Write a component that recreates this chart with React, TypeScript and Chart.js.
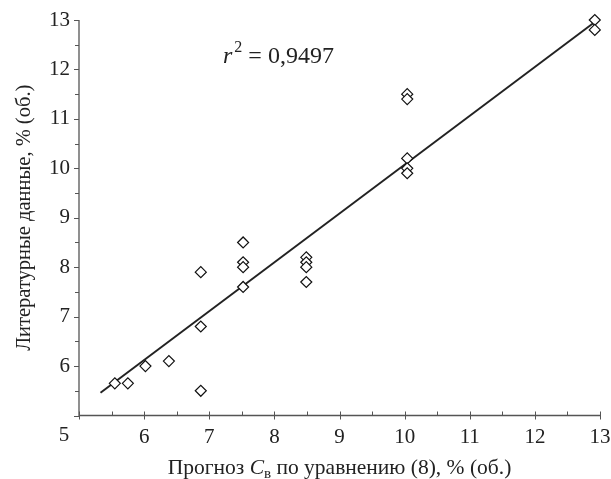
import React, { useEffect, useRef } from "react";
import { Chart, registerables } from "chart.js";

Chart.register(...registerables);

// Predicted (x) vs literature (y) values, % (об.)
const predicted = [5.55, 5.75, 6.02, 6.38, 6.87, 6.87, 6.87, 7.52, 7.52, 7.52, 7.52, 8.49, 8.49, 8.49, 8.49, 10.04, 10.04, 10.04, 10.04, 10.04, 12.92, 12.92];
const literature = [5.65, 5.65, 6.0, 6.1, 7.9, 6.8, 5.5, 8.5, 8.1, 8.0, 7.6, 8.2, 8.1, 8.0, 7.7, 11.5, 11.4, 10.2, 10.0, 9.9, 13.0, 12.8];
// Regression line end points
const fitX = [5.33, 12.9];
const fitY = [5.46, 12.94];

const xTitleParts = ["Прогноз ", "C", "в", " по уравнению (8), % (об.)"];
const yTitle = "Литературные данные, % (об.)";
const r2Label = "0,9497";

const FONT = "'Liberation Serif', 'Times New Roman', serif";
const AXIS = "#555";
const TEXT = "#222";

const decor = {
  id: "decor",
  afterDraw(chart: any) {
    const { ctx, chartArea, scales } = chart;
    const x = scales.x;
    const y = scales.y;
    ctx.save();
    ctx.strokeStyle = AXIS;
    ctx.lineWidth = 1.3;
    ctx.beginPath();
    ctx.moveTo(chartArea.left, chartArea.top);
    ctx.lineTo(chartArea.left, chartArea.bottom);
    ctx.lineTo(chartArea.right, chartArea.bottom);
    ctx.stroke();
    ctx.lineWidth = 1;
    for (const t of x.ticks) {
      const px = Math.round(x.getPixelForValue(t.value)) + 0.5;
      const major = Math.abs(t.value - Math.round(t.value)) < 1e-6;
      ctx.beginPath();
      ctx.moveTo(px, chartArea.bottom - 4);
      ctx.lineTo(px, chartArea.bottom + (major ? 4 : 0));
      ctx.stroke();
    }
    for (const t of y.ticks) {
      const py = Math.round(y.getPixelForValue(t.value)) + 0.5;
      const major = Math.abs(t.value - Math.round(t.value)) < 1e-6;
      ctx.beginPath();
      ctx.moveTo(chartArea.left - (major ? 5 : 4), py);
      ctx.lineTo(chartArea.left, py);
      ctx.stroke();
    }
    ctx.fillStyle = TEXT;
    ctx.font = `21px ${FONT}`;
    ctx.textAlign = "center";
    ctx.textBaseline = "middle";
    ctx.fillText("5", x.getPixelForValue(5) - 15, chartArea.bottom + 20);
    // y title
    ctx.save();
    ctx.translate(25, (chartArea.top + chartArea.bottom) / 2);
    ctx.rotate(-Math.PI / 2);
    ctx.font = `20.5px ${FONT}`;
    ctx.textAlign = "center";
    ctx.textBaseline = "middle";
    ctx.fillText(yTitle, 0, 0);
    ctx.restore();
    // x title with italic C and subscript
    const fonts = [`21.5px ${FONT}`, `italic 21.5px ${FONT}`, `15px ${FONT}`, `21.5px ${FONT}`];
    const offs = [0, 0, 4, 0];
    let total = 0;
    const widths = xTitleParts.map((p, i) => {
      ctx.font = fonts[i];
      const w = ctx.measureText(p).width;
      total += w;
      return w;
    });
    let cx = (chartArea.left + chartArea.right) / 2 - total / 2;
    ctx.textAlign = "left";
    ctx.textBaseline = "alphabetic";
    xTitleParts.forEach((p, i) => {
      ctx.font = fonts[i];
      ctx.fillText(p, cx, 474 + offs[i]);
      cx += widths[i];
    });
    // r^2 annotation
    let rx = chartArea.left + 144;
    const rb = chartArea.top + 43;
    ctx.font = `italic 24px ${FONT}`;
    ctx.fillText("r", rx, rb);
    rx += ctx.measureText("r").width + 2;
    ctx.font = `16px ${FONT}`;
    ctx.fillText("2", rx, rb - 11);
    rx += ctx.measureText("2").width;
    ctx.font = `24px ${FONT}`;
    ctx.fillText(" = " + r2Label, rx, rb);
    ctx.restore();
  },
};

export default function App() {
  const ref = useRef<HTMLCanvasElement>(null);
  useEffect(() => {
    if (!ref.current) return;
    const chart = new Chart(ref.current, {
      type: "scatter",
      data: {
        datasets: [
          {
            type: "scatter",
            data: predicted.map((v, i) => ({ x: v, y: literature[i] })),
            pointStyle: "rectRot",
            pointRadius: 5.5,
            pointBackgroundColor: "#fff",
            pointBorderColor: "#111",
            pointBorderWidth: 1.2,
            clip: false,
            order: 0,
          } as any,
          {
            type: "line",
            data: fitX.map((v, i) => ({ x: v, y: fitY[i] })),
            borderColor: "#222",
            borderWidth: 2,
            pointRadius: 0,
            showLine: true,
            fill: false,
            clip: false,
            order: 1,
          } as any,
        ],
      },
      options: {
        animation: false,
        responsive: true,
        maintainAspectRatio: false,
        layout: { padding: { left: 0, top: 20, right: 11, bottom: 0 } },
        plugins: { legend: { display: false }, tooltip: { enabled: false } },
        scales: {
          x: {
            type: "linear",
            min: 5,
            max: 13,
            grid: { display: false, drawTicks: false },
            border: { display: false },
            ticks: {
              stepSize: 0.5,
              autoSkip: false,
              maxRotation: 0,
              padding: 9,
              color: TEXT,
              font: { family: FONT, size: 21 },
              callback: (v: any) => (Number.isInteger(v) && v !== 5 ? String(v) : ""),
            },
            afterFit: (s: any) => {
              s.height = 63.5;
              s.paddingRight = 0;
              s.paddingLeft = 0;
            },
          },
          y: {
            type: "linear",
            min: 5,
            max: 13,
            grid: { display: false, drawTicks: false },
            border: { display: false },
            ticks: {
              stepSize: 0.5,
              autoSkip: false,
              padding: 9,
              color: TEXT,
              font: { family: FONT, size: 21 },
              callback: (v: any) => (Number.isInteger(v) && v !== 5 ? String(v) : ""),
            },
            afterFit: (s: any) => {
              s.width = 79;
              s.paddingTop = 0;
              s.paddingBottom = 0;
            },
          },
        },
      },
      plugins: [decor],
    });
    return () => chart.destroy();
  }, []);
  return (
    <div style={{ position: "fixed", left: 0, top: 0, width: 611, height: 479, background: "#fff" }}>
      <canvas ref={ref} />
    </div>
  );
}
